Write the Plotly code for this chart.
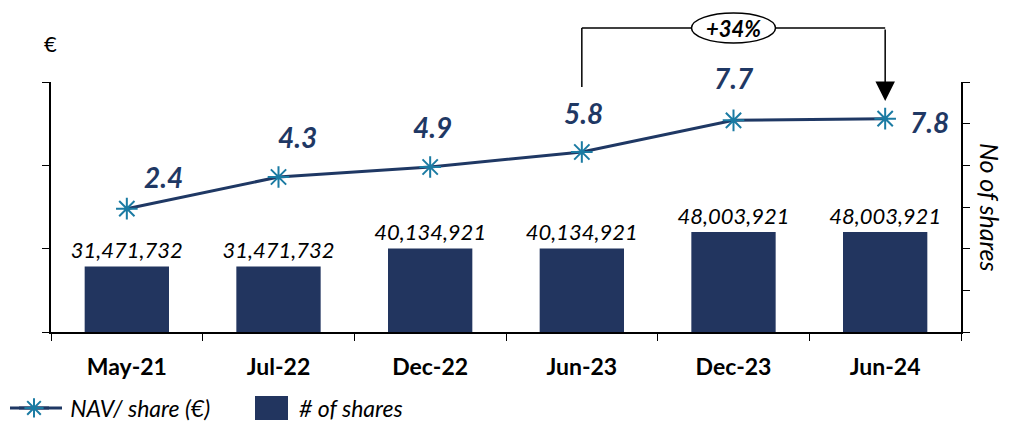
import plotly.graph_objects as go

categories = ["May-21", "Jul-22", "Dec-22", "Jun-23", "Dec-23", "Jun-24"]
nav_per_share = [2.4, 4.3, 4.9, 5.8, 7.7, 7.8]
num_shares = [31471732, 31471732, 40134921, 40134921, 48003921, 48003921]
growth_label = "+34%"

NAVY = "#22355f"
LINE = "#1f3864"
MARK = "#1b7ba3"
FONT = "Lato"

W, H = 1011, 422
L, R, T, B = 51, 50, 82, 90
PW, PH = W - L - R, H - T - B


def px_x(x):
    return (x - L) / PW


def px_y(y):
    return (H - B - y) / PH


fig = go.Figure()

fig.add_trace(go.Bar(
    x=categories, y=num_shares, name="# of shares", yaxis="y",
    marker=dict(color=NAVY, line=dict(width=0)),
    text=[f"{v:,}" for v in num_shares], textposition="outside",
    constraintext="none",
    textfont=dict(family=FONT, size=22, color="black", style="italic"),
    cliponaxis=False, showlegend=False,
))
fig.add_trace(go.Scatter(
    x=categories, y=nav_per_share, name="\u00a0\u00a0\u00a0NAV/ share (€)", yaxis="y2",
    mode="lines+markers",
    line=dict(color=LINE, width=3),
    marker=dict(symbol="asterisk-open", size=18, line=dict(color=MARK, width=2), color=MARK),
    cliponaxis=False,
))

# NAV labels as annotations
xshift = [37, 19, 2, 2, 0, 44]
yshift = [32, 40, 40, 39, 42, -3]
for c, v, dx, dy in zip(categories, nav_per_share, xshift, yshift):
    fig.add_annotation(x=c, y=v, yref="y2", text=f"<b><i>{v}</i></b>", showarrow=False,
                       xshift=dx, yshift=dy,
                       font=dict(family=FONT, size=28, color=LINE))

# growth bracket
yb = px_y(28)
fig.add_shape(type="line", xref="x", yref="paper", x0=3, x1=3,
              y0=px_y(87), y1=yb, line=dict(color="black", width=1.5))
fig.add_shape(type="line", xref="x", yref="paper", x0=3, x1=5,
              y0=yb, y1=yb, line=dict(color="black", width=1.5))
fig.add_annotation(x=5, xref="x", y=px_y(101), yref="paper", ax=0, ay=-73,
                   showarrow=True, arrowhead=2, arrowsize=2.6, arrowwidth=1.5,
                   arrowcolor="black", text="")
fig.add_shape(type="circle", xref="x", xsizemode="pixel", xanchor=4, x0=-42, x1=42,
              yref="paper", ysizemode="pixel", yanchor=yb, y0=-15, y1=15,
              fillcolor="white", line=dict(color="black", width=1.5))
fig.add_annotation(x=4, xref="x", y=yb, yref="paper", yanchor="middle",
                   text=f"<b><i>{growth_label}</i></b>",
                   showarrow=False, font=dict(family=FONT, size=22, color="black"))

fig.add_annotation(x=px_x(50), xref="paper", xanchor="center", y=px_y(43), yref="paper",
                   yanchor="middle",
                   text="€", showarrow=False, font=dict(family=FONT, size=22, color="black"))
fig.add_annotation(x=px_x(990), xref="paper", xanchor="center", y=px_y(207), yref="paper",
                   yanchor="middle",
                   text="<i>No of shares</i>", textangle=90, showarrow=False,
                   font=dict(family=FONT, size=25, color="black"))

# legend line extension to match the long legend sample
fig.add_shape(type="line", xref="paper", yref="paper",
              x0=px_x(10), x1=px_x(62), y0=px_y(408), y1=px_y(408),
              line=dict(color=LINE, width=3), layer="below")

# manual legend entry for bars
fig.add_shape(type="rect", xref="paper", yref="paper",
              x0=px_x(255), x1=px_x(288), y0=px_y(420), y1=px_y(396),
              fillcolor=NAVY, line=dict(width=0))
fig.add_annotation(x=px_x(297), xref="paper", y=px_y(408), yref="paper",
                   xanchor="left", yanchor="middle",
                   text="<i># of shares</i>", showarrow=False,
                   font=dict(family=FONT, size=23, color="black"))

fig.update_layout(
    width=W, height=H,
    margin=dict(l=L, r=R, t=T, b=B, autoexpand=False),
    paper_bgcolor="white", plot_bgcolor="white",
    font=dict(family=FONT, color="black"),
    bargap=0.444,
    showlegend=True,
    legend=dict(orientation="h", xref="container", yref="container",
                x=14 / W, xanchor="left", y=(H - 408) / H, yanchor="middle",
                font=dict(family=FONT, size=23, color="black", style="italic"),
                bgcolor="rgba(0,0,0,0)"),
    xaxis=dict(type="category", showline=True, linecolor="black", linewidth=1.5,
               ticks="outside", tickson="boundaries", ticklen=7, tickcolor="black",
               ticklabelstandoff=14,
               tickfont=dict(family=FONT, size=23, color="black", weight="bold"),
               showgrid=False, automargin=False),
    yaxis=dict(side="right", range=[0, 120e6], dtick=20e6, showticklabels=False,
               showline=True, linecolor="black", linewidth=1.5, ticks="outside",
               ticklen=7, tickcolor="black", showgrid=False, zeroline=False, automargin=False),
    yaxis2=dict(side="left", overlaying="y", range=[-5, 10], dtick=5, showticklabels=False,
                showline=True, linecolor="black", linewidth=1.5, ticks="outside",
                ticklen=7, tickcolor="black", showgrid=False, zeroline=False, automargin=False),
)

fig.write_html("out.html", config={"displayModeBar": False},
               post_script="document.body.style.margin='0px';")
